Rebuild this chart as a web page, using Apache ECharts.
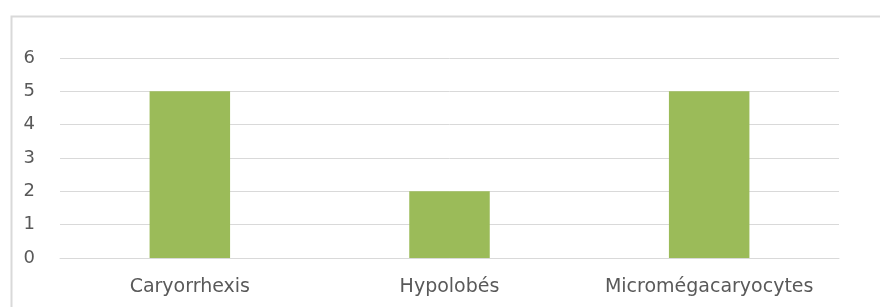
<!DOCTYPE html>
<html><head><meta charset="utf-8">
<script src="https://cdn.jsdelivr.net/npm/echarts@6/dist/echarts.min.js"></script>
<style>html,body{margin:0;padding:0;background:#fff}#c{width:880px;height:307px}</style>
</head><body><div id="c"></div>
<script>
const categories = ['Caryorrhexis', 'Hypolobés', 'Micromégacaryocytes'];
const values = [5, 2, 5];
const yTicks = [0, 1, 2, 3, 4, 5, 6];

const chart = echarts.init(document.getElementById('c'));
chart.setOption({
  backgroundColor: '#fff',
  animation: false,
  graphic: [{
    type: 'rect', left: 9, top: 14,
    shape: { width: 900, height: 320 },
    style: { fill: 'none', stroke: '#d9d9d9', lineWidth: 2 },
    silent: true
  }],
  grid: { left: 60, right: 41, top: 58, bottom: 49 },
  xAxis: {
    type: 'category', data: categories,
    axisLine: { lineStyle: { color: '#d9d9d9', width: 1 } },
    axisTick: { show: false },
    axisLabel: { interval: 0, hideOverlap: false, color: '#595959', fontFamily: 'DejaVu Sans', fontSize: 19, margin: 20 }
  },
  yAxis: {
    type: 'value', min: yTicks[0], max: yTicks[yTicks.length - 1], interval: 1,
    axisLine: { show: false }, axisTick: { show: false },
    splitLine: { lineStyle: { color: '#d9d9d9', width: 1 } },
    axisLabel: { color: '#595959', fontFamily: 'DejaVu Sans', fontSize: 18, margin: 25 }
  },
  series: [{
    type: 'bar', data: values, barWidth: '31%',
    itemStyle: { color: '#9BBB59' }
  }]
});
</script></body></html>
